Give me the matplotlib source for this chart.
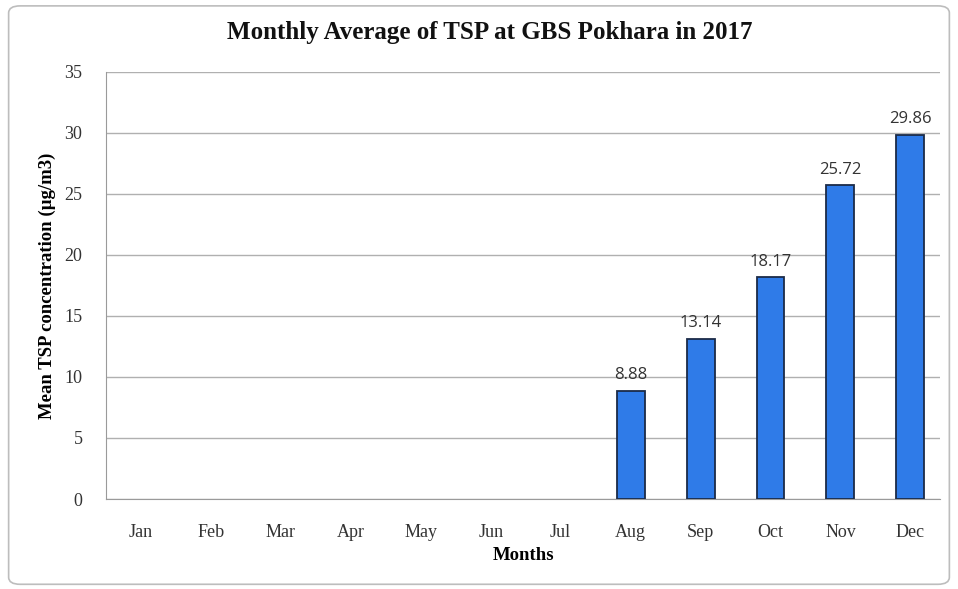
import matplotlib.pyplot as plt
import numpy as np
from matplotlib.patches import FancyBboxPatch

months = ['Jan', 'Feb', 'Mar', 'Apr', 'May', 'Jun', 'Jul', 'Aug', 'Sep', 'Oct', 'Nov', 'Dec']
tsp = [0, 0, 0, 0, 0, 0, 0, 8.88, 13.14, 18.17, 25.72, 29.86]
labels = ['', '', '', '', '', '', '', '8.88', '13.14', '18.17', '25.72', '29.86']

serif = ['Liberation Serif', 'DejaVu Serif']
sans = ['Open Sans', 'DejaVu Sans']

fig = plt.figure(figsize=(9.58, 5.89), dpi=100)
border = FancyBboxPatch((0.009, 0.008), 0.982, 0.982, boxstyle='round,pad=0,rounding_size=0.012',
                        transform=fig.transFigure, facecolor='white', edgecolor='#bdbdbd', lw=1.2,
                        zorder=-5)
fig.patches.append(border)

ax = fig.add_axes([0.1107, 0.1528, 0.871, 0.725])
ax.set_facecolor('none')
x = np.arange(len(months))
# empty months get no outline
edge_w = [1.3 if v > 0 else 0 for v in tsp]
bars = ax.bar(x, tsp, width=0.4, color='#2f7be8', edgecolor='#1b2b48', linewidth=edge_w, zorder=3)
for xi, v, lab in zip(x, tsp, labels):
    if lab:
        ax.text(xi, v + 0.6, lab, ha='center', va='bottom', fontsize=12, color='#333333', family=sans)

ax.set_xlim(-0.5, 11.43)
ax.set_ylim(0, 35)
ax.set_yticks(range(0, 36, 5))
ax.set_xticks(x)
ax.set_xticklabels(months, family=serif, fontsize=13, color='#333333')
for t in ax.get_yticklabels():
    t.set_family(serif)
    t.set_fontsize(13)
    t.set_color('#333333')
ax.grid(axis='y', color='#b0b0b0', lw=1, zorder=0)
ax.tick_params(axis='x', length=0, pad=18)
ax.tick_params(axis='y', length=0, pad=17)
for s in ['top', 'right']:
    ax.spines[s].set_visible(False)
ax.spines['left'].set_color('#9a9a9a')
ax.spines['bottom'].set_color('#9a9a9a')

ax.set_xlabel('Months', family=serif, fontsize=13.5, fontweight='bold', labelpad=4)
ax.set_ylabel('Mean TSP concentration (µg/m3)', family=serif, fontsize=13.5, fontweight='bold', labelpad=6)
fig.text(0.511, 0.944, 'Monthly Average of TSP at GBS Pokhara in 2017', ha='center', va='center',
         family=serif, fontsize=18, fontweight='bold', color='#111111')

fig.savefig('out.png', dpi=100)
